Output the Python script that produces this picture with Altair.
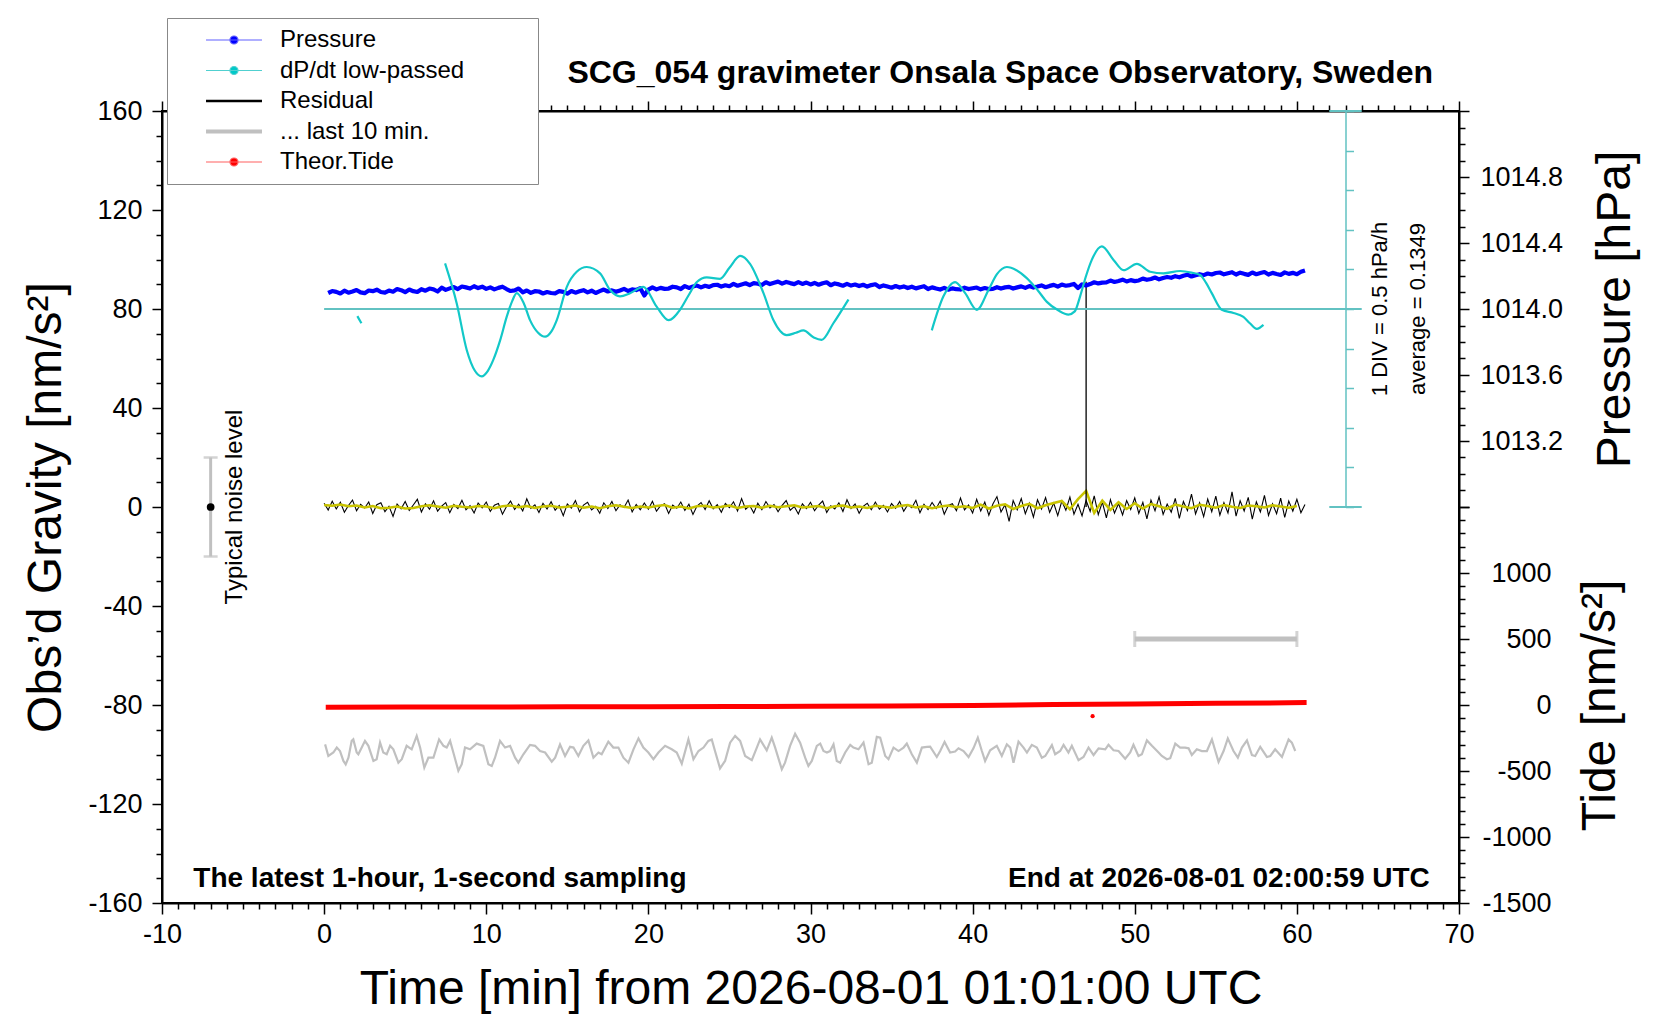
import altair as alt
import pandas as pd

FONT = "Liberation Sans"
W, H = 1297, 792
HALF = H / 2

# ---------------- values ----------------
# Pressure [hPa], one value every 0.25 min from t = 0.25 min
press_t0, press_step = 0.25, 0.25
pressure_hpa = [
    1014.097, 1014.109, 1014.104, 1014.094, 1014.111, 1014.099, 1014.106, 1014.115,
    1014.101, 1014.096, 1014.112, 1014.108, 1014.117, 1014.103, 1014.099, 1014.112,
    1014.105, 1014.121, 1014.114, 1014.102, 1014.118, 1014.108, 1014.103, 1014.120,
    1014.111, 1014.124, 1014.119, 1014.106, 1014.129, 1014.116, 1014.125, 1014.133,
    1014.121, 1014.136, 1014.131, 1014.124, 1014.138, 1014.127, 1014.135, 1014.122,
    1014.131, 1014.119, 1014.128, 1014.135, 1014.121, 1014.109, 1014.113, 1014.124,
    1014.101, 1014.112, 1014.098, 1014.108, 1014.106, 1014.094, 1014.103, 1014.097,
    1014.095, 1014.108, 1014.104, 1014.093, 1014.109, 1014.099, 1014.107, 1014.114,
    1014.101, 1014.111, 1014.097, 1014.108, 1014.118, 1014.106, 1014.113, 1014.104,
    1014.112, 1014.122, 1014.109, 1014.119, 1014.115, 1014.126, 1014.082, 1014.118,
    1014.131, 1014.119, 1014.128, 1014.122, 1014.124, 1014.135, 1014.131, 1014.121,
    1014.139, 1014.128, 1014.136, 1014.142, 1014.131, 1014.141, 1014.134, 1014.145,
    1014.147, 1014.136, 1014.144, 1014.138, 1014.152, 1014.141, 1014.149, 1014.156,
    1014.145, 1014.157, 1014.153, 1014.146, 1014.162, 1014.151, 1014.159, 1014.166,
    1014.154, 1014.164, 1014.157, 1014.151, 1014.163, 1014.152, 1014.160, 1014.149,
    1014.158, 1014.147, 1014.156, 1014.162, 1014.144, 1014.155, 1014.149, 1014.141,
    1014.152, 1014.142, 1014.148, 1014.139, 1014.147, 1014.136, 1014.145, 1014.150,
    1014.133, 1014.143, 1014.136, 1014.129, 1014.139, 1014.130, 1014.137, 1014.127,
    1014.135, 1014.125, 1014.132, 1014.138, 1014.121, 1014.131, 1014.124, 1014.118,
    1014.128, 1014.117, 1014.125, 1014.120, 1014.118, 1014.129, 1014.121, 1014.126,
    1014.130, 1014.119, 1014.127, 1014.121, 1014.122, 1014.132, 1014.124, 1014.131,
    1014.134, 1014.124, 1014.131, 1014.137, 1014.128, 1014.139, 1014.130, 1014.136,
    1014.143, 1014.132, 1014.140, 1014.146, 1014.136, 1014.148, 1014.141, 1014.145,
    1014.152, 1014.127, 1014.149, 1014.142, 1014.151, 1014.162, 1014.155, 1014.160,
    1014.161, 1014.172, 1014.164, 1014.170, 1014.178, 1014.167, 1014.175, 1014.169,
    1014.173, 1014.184, 1014.177, 1014.182, 1014.191, 1014.180, 1014.188, 1014.194,
    1014.189, 1014.199, 1014.192, 1014.201, 1014.208, 1014.197, 1014.205, 1014.211,
    1014.205, 1014.215, 1014.209, 1014.218, 1014.221, 1014.210, 1014.217, 1014.223,
    1014.209, 1014.220, 1014.213, 1014.207, 1014.221, 1014.211, 1014.218, 1014.224,
    1014.209, 1014.219, 1014.212, 1014.206, 1014.222, 1014.213, 1014.219, 1014.211,
    1014.226, 1014.234,
]

# Residual [nm/s2], one value every 0.25 min from t = 0
res_t0, res_step = 0.0, 0.25
residual = [
    1.5, -1.2, 2.3, -0.8, 1.9, -2.1, 0.6, 2.8, -1.5, 1.1, -0.4, 2.0, -2.6, 0.9, 1.7, -1.9, 0.3, -3.8, 1.2, -0.7,
    2.2, -1.4, 0.8, 3.1, -2.0, 1.3, -0.9, 2.5, -1.7, 0.4, 1.8, -2.3, 1.0, -0.6, 2.7, -1.1, 0.5, -2.4, 1.6, -0.3,
    2.0, -1.8, 0.7, 1.4, -2.9, 0.2, 2.4, -1.0, 1.1, -1.6, 3.3, -0.5, 0.9, -2.2, 1.5, -0.8, 2.1, -1.3, 0.6, -3.5,
    1.2, -0.4, 2.6, -1.9, 0.8, 1.9, -1.2, 0.3, -2.5, 1.7, -0.6, 2.2, -1.5, 0.9, -0.2, 2.8, -2.0, 1.0, -1.1, 1.6,
    -0.9, 2.3, -1.7, 0.5, 1.3, -2.6, 0.8, -0.5, 2.0, -1.4, 1.1, -3.0, 0.4, 1.8, -1.0, 2.5, -0.7, 0.9, -2.1, 1.4,
    -0.3, 2.1, -1.6, 3.4, -0.9, 0.6, -2.4, 1.5, -1.1, 2.2, -0.4, 1.0, -1.9, 0.7, 2.6, -1.3, 0.2, -2.8, 1.3, -0.6,
    1.9, -1.5, 0.8, 2.4, -2.2, 0.5, -0.8, 1.7, -1.8, 2.9, -0.6, 1.2, -2.5, 0.3, 1.5, -1.1, 2.0, -0.9, 0.7, -2.0,
    1.4, -0.5, 2.2, -1.7, 0.9, -0.3, 2.7, -2.3, 1.1, -1.0, 1.8, -0.6, 2.4, -2.9, 0.6, 1.3, -1.5, 3.6, -1.2, 0.8,
    -2.4, 3.1, -1.6, 2.0, -3.3, 1.2, 4.2, -2.0, 0.9, -5.8, 2.6, -1.1, 3.4, -2.7, 1.5, -4.1, 2.9, -0.8, 3.8, -2.2,
    1.6, -3.5, 2.4, -1.3, 4.0, -2.9, 1.1, -3.6, 2.7, -1.8, 4.5, -3.1, 2.0, -4.4, 3.0, -2.5, 1.4, -3.2, 2.6, -1.0,
    3.7, -2.6, 1.9, -4.8, 2.8, -1.5, 4.1, -3.0, 1.2, -2.1, 3.5, -4.6, 2.2, -1.4, 5.2, -2.8, 1.7, -3.9, 3.2, -1.9,
    4.4, -3.3, 1.8, -2.4, 6.1, -3.7, 2.5, -1.6, 3.9, -4.9, 2.1, -2.0, 4.7, -3.4, 1.3, -2.7, 3.6, -4.2, 2.4, -1.7,
    3.1, -2.3, 1.0,
]

# low-passed residual (yellow), one value every 0.5 min from t = 0
smooth_t0, smooth_step = 0.0, 0.5
residual_smooth = [
    0.8, 0.5, 1.0, 0.3, 0.6, -0.2, 0.4, -0.5, -0.3, 0.2, -0.6, -0.4, 0.3, 0.7, 0.2, -0.3, 0.5, 0.1, -0.2, 0.4,
    0.2, -0.5, 0.3, 0.6, -0.1, 0.4, -0.4, 0.2, 0.5, -0.2, 0.1, 0.6, -0.3, 0.2, -0.5, 0.3, 0.7, 0.1, -0.4, 0.2,
    -0.2, 0.4, 0.8, -0.3, 0.2, -0.6, 0.3, 0.5, -0.2, 0.1, 0.6, -0.4, 0.2, 0.4, -0.3, 0.5, -0.1, 0.3, 0.7, -0.2,
    0.1, 0.4, -0.5, 0.3, 0.6, -0.2, 0.2, -0.4, 0.5, 0.1, -0.3, 0.4, 0.8, -0.2, 0.3, -0.5, 0.2, 0.6, -0.1, 0.3,
    -0.4, 0.9, -0.6, 0.5, 1.1, -0.8, 0.4, 1.3, -0.5, 0.7, 1.6, 2.4, -0.9, 3.2, 6.5, -2.4, 2.6, -1.2, 1.9, -0.8,
    1.5, -0.6, 1.2, 0.3, -0.7, 1.0, 0.2, -0.5, 0.9, 0.4, -0.3, 0.8, 0.1, -0.4, 0.6, 0.3, -0.2, 0.7, 0.2, -0.3,
    0.4,
]

# single-sample spike in the residual
spike_t, spike_top = [47.0], [91.0]

# "... last 10 min." residual, stretched over the hour: (t [min], value [nm/s2])
last10 = [
    (0.06, -95.9), (0.26, -100.6), (0.57, -99.2), (0.78, -97.2), (0.98, -98.6), (1.19, -102.6),
    (1.33, -104.0), (1.50, -101.3), (1.70, -94.5), (1.80, -93.9), (2.01, -99.2), (2.11, -99.9),
    (2.32, -97.2), (2.52, -94.5), (2.73, -96.5), (3.04, -102.6), (3.24, -101.9), (3.45, -95.2),
    (3.65, -99.2), (3.86, -99.9), (4.07, -96.5), (4.27, -97.9), (4.58, -103.3), (4.79, -101.9),
    (5.09, -96.5), (5.40, -97.9), (5.71, -92.5), (5.92, -97.2), (6.18, -105.3), (6.43, -101.3),
    (6.74, -101.3), (7.09, -93.9), (7.36, -96.5), (7.56, -97.2), (7.77, -94.5), (7.97, -99.2),
    (8.28, -106.6), (8.49, -103.9), (8.69, -97.2), (9.00, -97.9), (9.41, -95.6), (9.82, -96.5),
    (10.13, -103.9), (10.34, -104.6), (10.54, -101.3), (10.85, -94.5), (11.16, -97.2), (11.47, -96.5),
    (11.78, -101.3), (11.98, -103.3), (12.29, -99.9), (12.70, -96.1), (13.01, -96.5), (13.32, -98.6),
    (13.63, -99.2), (14.04, -102.9), (14.25, -101.3), (14.55, -95.9), (14.86, -100.6), (15.17, -96.9),
    (15.38, -97.2), (15.68, -100.6), (15.99, -96.5), (16.30, -94.3), (16.61, -101.3), (16.92, -99.2),
    (17.12, -99.9), (17.53, -94.8), (17.84, -97.2), (18.15, -97.2), (18.46, -101.3), (18.77, -103.3),
    (19.08, -97.9), (19.39, -93.5), (19.69, -97.2), (20.00, -99.2), (20.31, -101.9), (20.62, -99.2),
    (21.03, -96.5), (21.44, -97.9), (21.75, -99.2), (22.06, -103.7), (22.47, -93.9), (22.78, -101.9),
    (23.09, -98.6), (23.40, -97.2), (23.70, -94.5), (23.91, -93.9), (24.11, -98.6), (24.42, -105.6),
    (24.73, -102.6), (25.04, -95.2), (25.35, -92.5), (25.66, -94.5), (25.97, -100.6), (26.38, -102.3),
    (26.69, -97.2), (26.89, -93.9), (27.30, -98.3), (27.61, -93.2), (27.82, -97.2), (28.23, -106.0),
    (28.43, -103.3), (28.74, -96.5), (29.05, -91.6), (29.36, -95.2), (29.67, -101.3), (29.87, -104.6),
    (30.08, -102.6), (30.39, -96.5), (30.60, -95.6), (30.80, -98.6), (31.01, -99.2), (31.21, -98.6),
    (31.42, -95.9), (31.62, -102.6), (31.83, -103.3), (32.14, -99.2), (32.45, -96.1), (32.65, -97.2),
    (32.96, -97.9), (33.27, -95.2), (33.58, -103.9), (33.78, -103.3), (34.09, -92.9), (34.30, -93.2),
    (34.61, -100.6), (34.81, -101.9), (35.12, -97.2), (35.43, -98.6), (35.74, -97.2), (35.94, -95.6),
    (36.25, -99.9), (36.56, -103.3), (36.87, -97.2), (37.18, -96.9), (37.38, -96.8), (37.79, -101.0),
    (38.00, -98.6), (38.27, -94.9), (38.61, -99.2), (38.92, -98.8), (39.13, -97.5), (39.44, -98.6),
    (39.75, -101.0), (40.05, -97.5), (40.32, -93.2), (40.57, -98.6), (40.77, -102.6), (41.08, -98.3),
    (41.49, -96.5), (41.80, -100.6), (42.11, -95.9), (42.32, -97.2), (42.52, -103.3), (42.83, -94.8),
    (43.14, -97.2), (43.35, -99.2), (43.65, -96.1), (43.96, -97.2), (44.27, -101.3), (44.48, -100.6),
    (44.89, -96.2), (45.09, -99.9), (45.40, -98.6), (45.61, -96.1), (45.91, -99.2), (46.12, -96.5),
    (46.53, -102.3), (46.84, -101.0), (47.15, -97.2), (47.46, -100.2), (47.77, -97.5), (48.18, -97.9),
    (48.38, -96.1), (48.69, -98.3), (49.00, -98.6), (49.41, -101.7), (49.72, -99.2), (49.92, -96.1),
    (50.23, -100.6), (50.44, -99.9), (50.75, -94.3), (51.06, -96.5), (51.47, -99.2), (51.67, -100.6),
    (51.98, -101.9), (52.19, -101.5), (52.50, -95.6), (52.80, -97.2), (53.11, -97.2), (53.32, -97.5),
    (53.52, -100.2), (53.83, -97.9), (54.14, -98.6), (54.45, -98.6), (54.76, -93.9), (55.17, -103.0),
    (55.48, -98.6), (55.74, -93.5), (56.09, -98.6), (56.36, -101.3), (56.61, -97.2), (56.92, -94.3),
    (57.23, -100.2), (57.43, -100.6), (57.74, -96.9), (58.15, -101.0), (58.36, -100.6), (58.66, -97.9),
    (59.08, -101.0), (59.49, -93.9), (59.69, -95.2), (59.90, -98.6),
]

# dP/dt low-passed [hPa/h], three pieces: (t [min], value)
dpdt_pieces = [
    [(2.05, -0.09), (2.30, -0.18)],
    [(7.46, 0.575), (8.18, 0.07), (8.80, -0.52), (9.30, -0.78), (9.72, -0.85), (10.10, -0.78),
     (10.44, -0.64), (10.85, -0.40), (11.26, -0.10), (11.60, 0.10), (11.88, 0.20), (12.30, 0.08),
     (12.70, -0.14), (13.20, -0.30), (13.63, -0.35), (14.00, -0.29), (14.35, -0.14), (14.97, 0.28),
     (15.58, 0.47), (16.20, 0.53), (17.02, 0.45), (17.64, 0.24), (18.25, 0.16), (18.87, 0.20),
     (19.69, 0.28), (20.51, 0.03), (21.24, -0.14), (21.95, -0.01), (22.50, 0.18), (22.99, 0.34),
     (23.60, 0.40), (24.42, 0.38), (25.00, 0.52), (25.66, 0.67), (26.27, 0.57), (27.10, 0.20),
     (27.71, -0.14), (28.53, -0.33), (29.10, -0.30), (29.56, -0.27), (30.20, -0.36), (30.69, -0.39),
     (31.41, -0.18), (32.34, 0.12)],
    [(37.48, -0.27), (38.20, 0.16), (38.92, 0.34), (39.54, 0.20), (40.26, -0.01), (40.98, 0.24),
     (41.50, 0.44), (42.11, 0.53), (42.70, 0.49), (43.34, 0.39), (44.00, 0.24), (44.58, 0.09),
     (45.30, -0.02), (45.91, -0.07), (46.30, -0.03), (46.63, 0.16), (47.00, 0.42), (47.35, 0.62),
     (47.97, 0.79), (48.69, 0.62), (49.31, 0.49), (50.13, 0.57), (50.95, 0.47), (51.77, 0.45),
     (52.80, 0.48), (53.50, 0.46), (54.03, 0.43), (54.40, 0.33), (54.75, 0.20), (55.37, -0.01),
     (56.09, -0.05), (56.70, -0.10), (57.10, -0.18), (57.53, -0.25), (57.94, -0.20)],
]
dpdt_average = 0.1349
dpdt_div = 0.5  # hPa/h per division

# theoretical tide [nm/s2]
tide_t = [0.1, 5, 10, 15, 20, 25, 30, 35, 40, 45, 50, 55, 60.6]
tide_v = [-17, -16, -15, -14, -13, -11, -10, -8, -3, 3, 8, 13, 18]
tide_odd_t, tide_odd_v = [47.4], [-85]

# marker of the last 10 minutes (drawn on the tide scale)
last10_start, last10_end, last10_level = [50], [60], [500]

# typical noise level bar
noise_t, noise_lo, noise_hi = [-7], [-20], [20]

legend_names = ["Pressure", "dP/dt low-passed", "Residual", "... last 10 min.", "Theor.Tide"]

# ---------------- frames ----------------
press_df = pd.DataFrame({"t": [press_t0 + press_step * i for i in range(len(pressure_hpa))], "p": pressure_hpa})
res_df = pd.DataFrame({"t": [res_t0 + res_step * i for i in range(len(residual))], "v": residual})
smooth_df = pd.DataFrame({"t": [smooth_t0 + smooth_step * i for i in range(len(residual_smooth))],
                          "v": residual_smooth})
spike_df = pd.DataFrame({"t": spike_t, "lo": [0.0], "hi": spike_top})
gray_df = pd.DataFrame(last10, columns=["t", "v"])
dpdt_df = pd.DataFrame([(k, t, v) for k, piece in enumerate(dpdt_pieces) for t, v in piece],
                       columns=["seg", "t", "v"])
dpdt_rules = pd.DataFrame({"t0": [0, 62, 62], "t1": [64, 64, 64], "v": [0, 2.5, -2.5]})
dpdt_notes = pd.DataFrame({"t": [65.1, 67.5], "v": [0, 0],
                           "txt": [f"1 DIV = {dpdt_div} hPa/h", f"average = {dpdt_average}"]})
tide_df = pd.DataFrame({"t": tide_t, "v": tide_v})
tide_odd_df = pd.DataFrame({"t": tide_odd_t, "v": tide_odd_v})
bar_df = pd.DataFrame({"t0": last10_start, "t1": last10_end, "v": last10_level})
caps_df = pd.DataFrame({"t": last10_start + last10_end, "v": last10_level * 2})
noise_df = pd.DataFrame({"t": noise_t, "lo": noise_lo, "hi": noise_hi, "mid": [0]})
noise_caps = pd.DataFrame({"t": noise_t * 2, "v": noise_lo + noise_hi})
noise_txt = pd.DataFrame({"t": [-5.5], "v": [0], "txt": ["Typical noise level"]})
left_note = pd.DataFrame({"t": [-8.07], "v": [-153.4], "txt": ["The latest 1-hour, 1-second sampling"]})
right_note = pd.DataFrame({"t": [68.2], "v": [-153.4], "txt": ["End at 2026-08-01 02:00:59 UTC"]})
legend_df = pd.DataFrame({"series": legend_names})

# ---------------- scales & axes ----------------
x_scale = alt.Scale(domain=[-10, 70], nice=False, zero=False)
g_scale = alt.Scale(domain=[-160, 160], nice=False, zero=False)
p_scale = alt.Scale(domain=[1012.8, 1015.2], range=[HALF, 0], nice=False, zero=False)
tide_scale = alt.Scale(domain=[-1500, 1500], range=[H, HALF], nice=False, zero=False)
d_scale = alt.Scale(domain=[-2.5, 2.5], range=[HALF, 0], nice=False, zero=False)


def X(field, axis=None):
    return alt.X(field, type="quantitative", scale=x_scale, axis=axis)


def Y(field, scale, axis=None):
    return alt.Y(field, type="quantitative", scale=scale, axis=axis)


def ticklen(test, major, minor):
    return {"condition": {"test": test, "value": major}, "value": minor}


minutes = list(range(-10, 71))
bottom_axis = alt.Axis(orient="bottom", values=minutes, tickSize=ticklen("datum.value % 10 == 0", 11, 6),
                       labelExpr="datum.value % 10 == 0 ? '' + datum.value : ''", labelPadding=7,
                       title="Time [min] from 2026-08-01 01:01:00 UTC",
                       titleX=W / 2, titleY=100, titleAlign="center", titleBaseline="alphabetic")
top_axis = alt.Axis(orient="top", values=minutes, tickSize=ticklen("datum.value % 10 == 0", 10, 6),
                    labels=False, title=None)
left_axis = alt.Axis(orient="left", values=list(range(-160, 161, 10)),
                     tickSize=ticklen("datum.value % 40 == 0", 10, 6),
                     labelExpr="datum.value % 40 == 0 ? '' + datum.value : ''", labelPadding=10,
                     title="Obs’d Gravity [nm/s²]", titleAngle=270, titleX=-116, titleY=H / 2,
                     titleAlign="center", titleBaseline="middle")
pressure_axis = alt.Axis(orient="right", values=[round(1012.8 + 0.1 * i, 1) for i in range(25)],
                         tickSize=ticklen("round(datum.value * 10) % 4 == 0", 10, 6),
                         labelExpr="round(datum.value * 10) % 4 == 0 && datum.value > 1013 && datum.value < 1015"
                                   " ? format(datum.value, '.1f') : ''",
                         labelPadding=11, labelAlign="left",
                         title="Pressure [hPa]", titleAngle=270, titleX=156, titleY=HALF / 2,
                         titleAlign="center", titleBaseline="middle")
tide_axis = alt.Axis(orient="right", values=list(range(-1500, 1501, 100)),
                     tickSize=ticklen("datum.value % 500 == 0", 10, 6),
                     labelExpr="datum.value % 500 == 0 && datum.value < 1500 ? '' + datum.value : ''",
                     labelPadding=82, labelAlign="right",
                     title="Tide [nm/s²]", titleAngle=270, titleX=141, titleY=HALF + HALF / 2,
                     titleAlign="center", titleBaseline="middle")
dpdt_axis = alt.Axis(orient="right", offset=-113.5, values=[-2.5 + 0.5 * i for i in range(11)],
                     tickSize=8, labels=False, title=None, domainColor="#62c2c2", tickColor="#62c2c2",
                     domainWidth=1.5, tickWidth=1.5)

# ---------------- layers ----------------
residual_line = alt.Chart(res_df).mark_line(color="black", strokeWidth=1.1).encode(
    x=X("t", bottom_axis), y=Y("v", g_scale, left_axis))
smooth_line = alt.Chart(smooth_df).mark_line(color="#c9c400", strokeWidth=2.6).encode(
    x=X("t", top_axis), y=Y("v", g_scale))
spike = alt.Chart(spike_df).mark_rule(color="black", strokeWidth=1.3).encode(
    x=X("t"), y=Y("lo", g_scale), y2="hi")
gray_line = alt.Chart(gray_df).mark_line(color="#c0c0c0", strokeWidth=2.2).encode(
    x=X("t"), y=Y("v", g_scale))
noise_bar = alt.Chart(noise_df).mark_rule(color="#c0c0c0", strokeWidth=3).encode(
    x=X("t"), y=Y("lo", g_scale), y2="hi")
noise_cap = alt.Chart(noise_caps).mark_tick(color="#c0c0c0", orient="horizontal", size=14, thickness=2.5).encode(
    x=X("t"), y=Y("v", g_scale))
noise_dot = alt.Chart(noise_df).mark_circle(color="black", size=60, opacity=1).encode(
    x=X("t"), y=Y("mid", g_scale))
noise_label = alt.Chart(noise_txt).mark_text(angle=270, font=FONT, fontSize=24, color="black",
                                             align="center", baseline="middle").encode(
    x=X("t"), y=Y("v", g_scale), text="txt")
left_text = alt.Chart(left_note).mark_text(font=FONT, fontSize=28, fontWeight="bold", color="black",
                                           align="left", baseline="alphabetic").encode(
    x=X("t"), y=Y("v", g_scale), text="txt")
right_text = alt.Chart(right_note).mark_text(font=FONT, fontSize=28, fontWeight="bold", color="black",
                                             align="right", baseline="alphabetic").encode(
    x=X("t"), y=Y("v", g_scale), text="txt")

pressure_line = alt.Chart(press_df).mark_line(color="#0000ff", strokeWidth=4.2, strokeJoin="round").encode(
    x=X("t"), y=Y("p", p_scale, pressure_axis))

dpdt_line = alt.Chart(dpdt_df).mark_line(color="#12c8c8", strokeWidth=2.2, interpolate="monotone").encode(
    x=X("t"), y=Y("v", d_scale, dpdt_axis), detail="seg:N")
dpdt_rule = alt.Chart(dpdt_rules).mark_rule(color="#62c2c2", strokeWidth=2).encode(
    x=X("t0"), x2="t1", y=Y("v", d_scale))
dpdt_text = alt.Chart(dpdt_notes).mark_text(angle=270, font=FONT, fontSize=22, color="black",
                                            align="center", baseline="middle").encode(
    x=X("t"), y=Y("v", d_scale), text="txt")

tide_line = alt.Chart(tide_df).mark_line(color="#ff0000", strokeWidth=5).encode(
    x=X("t"), y=Y("v", tide_scale, tide_axis))
tide_odd = alt.Chart(tide_odd_df).mark_circle(color="#ff0000", size=18, opacity=1).encode(
    x=X("t"), y=Y("v", tide_scale))
last10_bar = alt.Chart(bar_df).mark_rule(color="#c0c0c0", strokeWidth=5).encode(
    x=X("t0"), x2="t1", y=Y("v", tide_scale))
last10_caps = alt.Chart(caps_df).mark_tick(color="#c0c0c0", orient="vertical", size=16, thickness=3).encode(
    x=X("t"), y=Y("v", tide_scale))

# legend: line + dot symbols built from custom paths; an invisible title on the
# right side widens the box to the reference's width
dot_path = "M-3,0H3M-0.43,0A0.43,0.43,0,1,0,0.43,0A0.43,0.43,0,1,0,-0.43,0"
line_path = "M-3,0H3"
legend_kw = dict(title="legend", titleOrient="right", titleOpacity=0, titleFontSize=19, titlePadding=2,
                 titleFont=FONT,
                 orient="none", legendX=5, legendY=-93, padding=10, fillColor="white",
                 strokeColor="#888888", labelFont=FONT, labelFontSize=24, labelColor="black",
                 symbolSize=348, symbolOffset=45, labelOffset=34, rowPadding=6.5, symbolOpacity=1,
                 labelLimit=600)
legend_host = alt.Chart(legend_df).mark_point(opacity=0, filled=True).encode(
    fill=alt.Fill("series:N", scale=alt.Scale(domain=legend_names,
                  range=["#0000ff", "#00c8c8", "black", "#c0c0c0", "#ff0000"]), legend=alt.Legend(**legend_kw)),
    stroke=alt.Stroke("series:N", scale=alt.Scale(domain=legend_names,
                      range=["#6060ff", "#50d0d0", "black", "#c0c0c0", "#ff6060"]), legend=alt.Legend(**legend_kw)),
    shape=alt.Shape("series:N", scale=alt.Scale(domain=legend_names,
                    range=[dot_path, dot_path, line_path, line_path, dot_path]), legend=alt.Legend(**legend_kw)),
    strokeWidth=alt.StrokeWidth("series:N", scale=alt.Scale(type="ordinal", domain=legend_names,
                                range=[1.2, 1.2, 2.6, 4, 1.2]), legend=alt.Legend(**legend_kw)),
)

chart = alt.layer(
    residual_line, smooth_line, spike, gray_line, noise_bar, noise_cap, noise_dot, noise_label,
    left_text, right_text, pressure_line, dpdt_rule, dpdt_line, dpdt_text,
    tide_line, tide_odd, last10_bar, last10_caps, legend_host,
).resolve_scale(y="independent").resolve_axis(x="independent", y="independent").properties(
    width=W, height=H,
    title=alt.TitleParams("SCG_054 gravimeter Onsala Space Observatory, Sweden", anchor="end", frame="group",
                          baseline="alphabetic", dx=-26, dy=97, offset=0, fontSize=32, font=FONT,
                          fontWeight="bold", color="black"),
    autosize=alt.AutoSizeParams(type="none"),
    padding={"left": 154, "top": 103, "right": 190, "bottom": 112},
).configure_view(stroke="black", strokeWidth=2).configure_axis(
    domainColor="black", domainWidth=2, tickColor="black", tickWidth=1.5,
    labelFont=FONT, labelFontSize=27, labelColor="black",
    titleFont=FONT, titleFontSize=48, titleFontWeight="normal", titleColor="black",
    grid=False, labelFlush=False, labelOverlap=False, labelBound=False,
)

chart.save("out.html", embed_options={"renderer": "svg", "actions": False})
